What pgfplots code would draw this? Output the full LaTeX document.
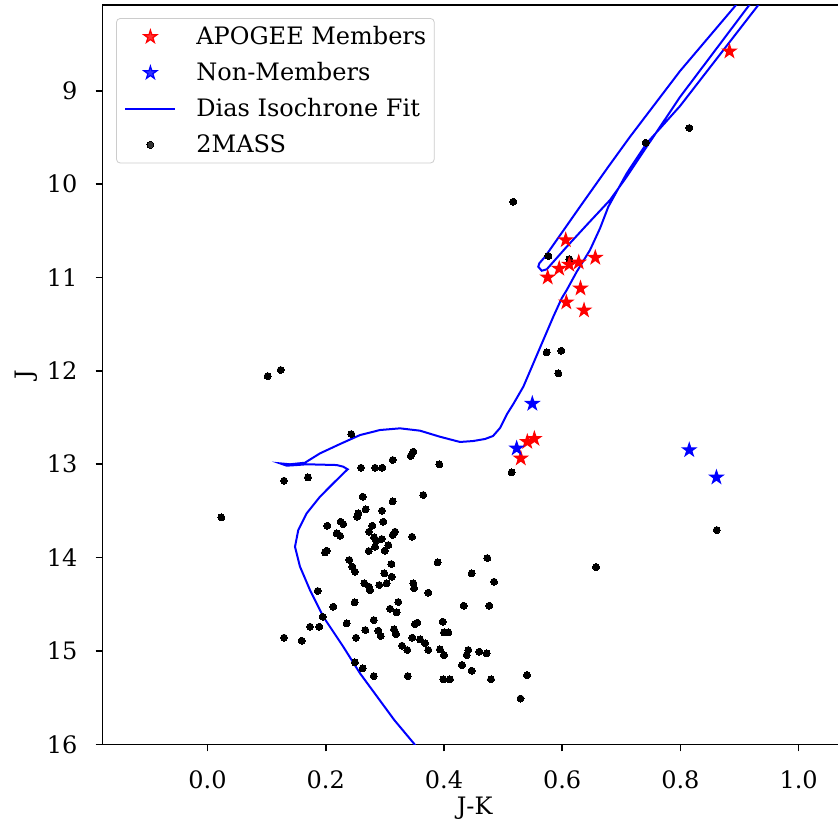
\documentclass[border=0pt]{standalone}
\usepackage{fontspec}
\setmainfont{DejaVu Serif}
\usepackage{pgfplots}
\pgfplotsset{compat=1.18}

\pgfdeclareplotmark{fstar}{%
  \pgfmathsetlengthmacro\rin{0.382*\pgfplotmarksize}%
  \pgfpathmoveto{\pgfqpointpolar{90}{\pgfplotmarksize}}%
  \pgfpathlineto{\pgfqpointpolar{126}{\rin}}%
  \pgfpathlineto{\pgfqpointpolar{162}{\pgfplotmarksize}}%
  \pgfpathlineto{\pgfqpointpolar{198}{\rin}}%
  \pgfpathlineto{\pgfqpointpolar{234}{\pgfplotmarksize}}%
  \pgfpathlineto{\pgfqpointpolar{270}{\rin}}%
  \pgfpathlineto{\pgfqpointpolar{306}{\pgfplotmarksize}}%
  \pgfpathlineto{\pgfqpointpolar{342}{\rin}}%
  \pgfpathlineto{\pgfqpointpolar{18}{\pgfplotmarksize}}%
  \pgfpathlineto{\pgfqpointpolar{54}{\rin}}%
  \pgfpathclose
  \pgfusepathqfillstroke
}

\pgfplotsset{
  marklegend/.style={legend image code/.code={\draw[mark repeat=2,mark phase=2,##1] plot coordinates {(0bp,0bp) (12.5bp,0bp) (25bp,0bp)}; \path (0bp,0bp) (35bp,0bp);}},
  linelegend/.style={legend image code/.code={\draw[##1] (0bp,0bp) -- (25bp,0bp); \path (35bp,0bp);}},
}

\begin{document}
\begin{tikzpicture}[font=\fontsize{12bp}{14.4bp}\selectfont]
\begin{axis}[
  scale only axis,
  width=371.9bp, height=369.65bp,
  xmin=-0.1773, xmax=1.081,
  ymin=8.082, ymax=16, y dir=reverse,
  xtick={0,0.2,0.4,0.6,0.8,1.0},
  ytick={9,10,11,12,13,14,15,16},
  xtick pos=bottom, ytick pos=left,
  tick align=outside,
  major tick length=3.5bp,
  tick style={line width=0.8bp, black},
  axis line style={line width=0.8bp},
  /pgf/number format/assume math mode=true,
  xticklabel style={/pgf/number format/.cd, fixed, fixed zerofill, precision=1, assume math mode=true, /tikz/.cd, inner sep=0pt, anchor=north, yshift=-9.5bp},
  yticklabel style={/pgf/number format/.cd, assume math mode=true, /tikz/.cd, inner sep=0pt, anchor=east, xshift=-9bp},
  tick label style={font=\fontsize{12bp}{14.4bp}\selectfont},
  xlabel={J-K}, ylabel={J},
  xlabel style={at={(axis description cs:0.5,-0.0713)}, anchor=north, inner sep=0pt, font=\fontsize{12bp}{14.4bp}\selectfont},
  ylabel style={at={(axis description cs:-0.1179,0.5)}, anchor=north, inner sep=0pt, font=\fontsize{12bp}{14.4bp}\selectfont},
  legend style={at={(axis description cs:0.0179,0.9824)}, anchor=north west,
    draw=black!20, rounded corners=2bp, fill=white, fill opacity=0.8, text opacity=1,
    inner xsep=4bp, inner ysep=3.95bp, row sep=7.4bp, column sep=0pt,
    nodes={inner sep=0pt},
    font=\fontsize{12bp}{14.4bp}\selectfont},
  legend cell align=left,
  clip=true,
]
% 2MASS
\addplot[only marks, mark=*, mark size=1.75bp, mark options={draw=black, fill=black, line width=0pt}, forget plot] coordinates {
(0.5173,10.189) (0.5766,10.770) (0.6121,10.803) (0.7413,9.557) (0.8151,9.399)
(0.5738,11.802) (0.5986,11.785) (0.5935,12.027) (0.5146,13.087) (0.8615,13.705)
(0.6573,14.101) (0.1018,12.056) (0.1238,11.991) (0.2433,12.677) (0.1294,13.177)
(0.1700,13.141) (0.0233,13.569) (0.3482,12.866) (0.3438,12.912) (0.3133,12.955)
(0.3922,13.001) (0.2597,13.038) (0.2834,13.038) (0.2957,13.038) (0.2626,13.348)
(0.3651,13.330) (0.3133,13.398) (0.2676,13.483) (0.2551,13.526) (0.2534,13.562)
(0.2952,13.498) (0.2974,13.616) (0.2027,13.659) (0.2253,13.616) (0.2297,13.641)
(0.2788,13.659) (0.2732,13.723) (0.2186,13.740) (0.2242,13.766) (0.3172,13.723)
(0.3133,13.758) (0.2817,13.783) (0.2851,13.820) (0.2947,13.801) (0.3460,13.777)
(0.3059,13.866) (0.2834,13.884) (0.2727,13.930) (0.2998,13.927) (0.1988,13.944)
(0.2017,13.927) (0.4734,14.005) (0.3894,14.051) (0.2399,14.026) (0.2450,14.098)
(0.2495,14.152) (0.3110,14.069) (0.4470,14.169) (0.2991,14.169) (0.3116,14.205)
(0.3032,14.276) (0.4847,14.259) (0.2653,14.276) (0.2732,14.312) (0.2749,14.348)
(0.2906,14.294) (0.3482,14.276) (0.3494,14.329) (0.3735,14.376) (0.1864,14.358)
(0.2128,14.526) (0.2490,14.479) (0.3228,14.476) (0.3088,14.548) (0.3201,14.586)
(0.4334,14.516) (0.4767,14.516) (0.1949,14.634) (0.1734,14.741) (0.1891,14.741)
(0.2355,14.704) (0.2812,14.669) (0.2670,14.776) (0.2890,14.783) (0.2930,14.840)
(0.3155,14.768) (0.3189,14.819) (0.3510,14.712) (0.3549,14.698) (0.3979,14.687)
(0.4001,14.801) (0.4074,14.801) (0.1294,14.858) (0.1594,14.891) (0.2512,14.858)
(0.3465,14.858) (0.3595,14.876) (0.3680,14.918) (0.3290,14.944) (0.3380,14.990)
(0.3735,14.990) (0.3933,14.983) (0.4001,15.044) (0.4412,14.990) (0.4385,15.044)
(0.4598,15.008) (0.4723,15.026) (0.4306,15.151) (0.4470,15.212) (0.2495,15.122)
(0.2626,15.186) (0.2812,15.269) (0.3387,15.269) (0.3989,15.304) (0.4102,15.304)
(0.4796,15.304) (0.5405,15.258) (0.5295,15.510)
};
% APOGEE members
\addplot[only marks, mark=fstar, mark size=3.4bp, red, mark options={line width=0.6bp, draw=red, fill=red}, marklegend] coordinates {
(0.606,10.599) (0.656,10.788) (0.628,10.838) (0.612,10.862) (0.595,10.905)
(0.5755,10.999) (0.631,11.117) (0.607,11.266) (0.637,11.352) (0.883,8.578)
(0.541,12.760) (0.553,12.727) (0.530,12.937)
};
\addlegendentry{APOGEE Members}
% Non-members
\addplot[only marks, mark=fstar, mark size=3.4bp, blue, mark options={line width=0.6bp, draw=blue, fill=blue}, marklegend] coordinates {
(0.5495,12.352) (0.523,12.830) (0.815,12.848) (0.861,13.141)
};
\addlegendentry{Non-Members}
% Isochrone
\addplot[blue, line width=1bp, mark=none, linelegend] coordinates {
(0.3570,16.060) (0.3503,16.000) (0.3160,15.740) (0.2870,15.490) (0.2580,15.240)
(0.2297,14.955) (0.1959,14.634) (0.1734,14.348) (0.1565,14.098) (0.1480,13.884)
(0.1536,13.705) (0.1678,13.526) (0.1903,13.348) (0.2128,13.205) (0.2326,13.081)
(0.2372,13.055) (0.2297,13.027) (0.2186,13.009) (0.1678,13.001) (0.1509,13.009)
(0.1340,13.016) (0.1227,12.991) (0.1396,13.001) (0.1649,12.984) (0.1903,12.884)
(0.2242,12.784) (0.2580,12.688) (0.2918,12.634) (0.3257,12.616) (0.3595,12.641)
(0.3933,12.706) (0.4272,12.762) (0.4492,12.752) (0.4695,12.730) (0.4830,12.698)
(0.4948,12.613) (0.5067,12.463) (0.5173,12.356) (0.5343,12.170) (0.5512,11.920)
(0.5681,11.670) (0.5850,11.420) (0.5992,11.223) (0.6077,11.135) (0.6246,10.939)
(0.6471,10.706) (0.6640,10.474) (0.6781,10.242) (0.7092,9.885) (0.7430,9.563)
(0.7994,9.164) (0.9318,8.082) (0.9516,7.921) (0.9076,7.921) (0.8941,8.082)
(0.7994,8.789) (0.7148,9.493) (0.6781,9.814) (0.6302,10.242) (0.5710,10.778)
(0.5613,10.849) (0.5596,10.885) (0.5654,10.928) (0.5738,10.913) (0.6077,10.671)
(0.6415,10.438) (0.6809,10.171) (0.7092,9.921) (0.7430,9.600) (0.7994,9.067)
(0.9166,8.082) (0.9296,7.975)
};
\addlegendentry{Dias Isochrone Fit\hspace{2bp}}
\addlegendimage{only marks, mark=*, mark size=1.75bp, black, mark options={draw=black, fill=black, line width=0pt}, marklegend}
\addlegendentry{2MASS}
\end{axis}
\pgfresetboundingbox
\path[use as bounding box] (-51.35bp,-40.35bp) rectangle (367.65bp,372.15bp);
\end{tikzpicture}
\end{document}
